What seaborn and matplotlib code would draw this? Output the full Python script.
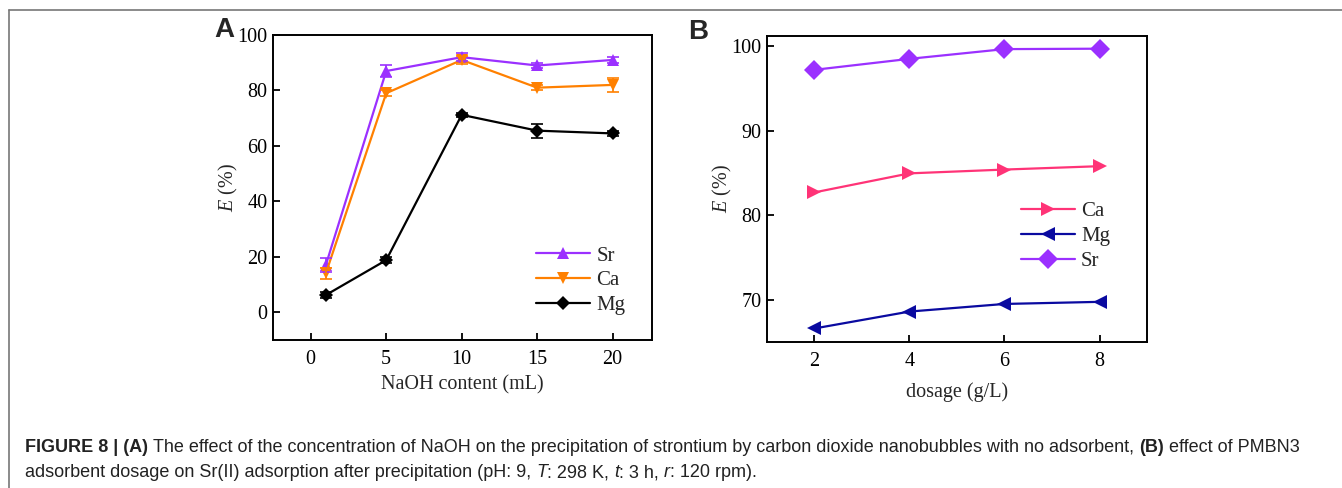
import numpy as np
import pandas as pd
import matplotlib
matplotlib.use("Agg")
import matplotlib.pyplot as plt
from matplotlib.lines import Line2D
import seaborn as sns

# panel A: NaOH content
naoh_ml = [1, 5, 10, 15, 20]
sr_a = [17, 87, 92, 89, 91]
ca_a = [14, 79, 91, 81, 82]
mg_a = [6.2, 18.8, 71.2, 65.5, 64.5]
sr_a_err = [2.5, 2.0, 1.5, 0.8, 1.0]
ca_a_err = [2.0, 1.0, 1.5, 0.8, 2.5]
mg_a_err = [1.0, 1.0, 0.8, 2.5, 1.0]

# panel B: adsorbent dosage
dosage = [2, 4, 6, 8]
ca_b = [82.7, 84.95, 85.4, 85.8]
mg_b = [66.6, 68.6, 69.5, 69.75]
sr_b = [97.2, 98.5, 99.65, 99.7]

sns.set_style("ticks")
plt.rcParams['font.family'] = ['Liberation Serif', 'DejaVu Serif']
plt.rcParams['mathtext.fontset'] = 'custom'
plt.rcParams['mathtext.it'] = 'Liberation Serif:italic'
plt.rcParams['mathtext.rm'] = 'Liberation Serif'

fig = plt.figure(figsize=(13.42, 4.88), dpi=100)
axA = fig.add_axes([0.2034, 0.3033, 0.2824, 0.625])
axB = fig.add_axes([0.5715, 0.2992, 0.2832, 0.627])

c_sr = "#9b30ff"
c_ca = "#ff8000"
c_mg = "#000000"

dfA = pd.DataFrame({
    "x": naoh_ml * 3,
    "E": sr_a + ca_a + mg_a,
    "ion": ["Sr"] * 5 + ["Ca"] * 5 + ["Mg"] * 5,
})
sns.lineplot(data=dfA, x="x", y="E", hue="ion", style="ion",
             palette={"Sr": c_sr, "Ca": c_ca, "Mg": c_mg},
             markers={"Sr": "^", "Ca": "v", "Mg": "D"},
             dashes=False, markersize=9, markeredgewidth=0,
             linewidth=1.6, ax=axA)
# smaller diamonds for Mg
for ln in axA.lines:
    if ln.get_marker() == "D":
        ln.set_markersize(7.5)
for vals, errs, col in [(sr_a, sr_a_err, c_sr), (ca_a, ca_a_err, c_ca), (mg_a, mg_a_err, c_mg)]:
    axA.errorbar(naoh_ml, vals, yerr=errs, fmt="none", ecolor=col,
                 elinewidth=1.2, capsize=4, capthick=1.2)

dfB = pd.DataFrame({
    "x": dosage * 3,
    "E": ca_b + mg_b + sr_b,
    "ion": ["Ca"] * 4 + ["Mg"] * 4 + ["Sr"] * 4,
})
sns.lineplot(data=dfB, x="x", y="E", hue="ion", style="ion",
             palette={"Ca": "#ff3377", "Mg": "#0a0aa0", "Sr": "#9b30ff"},
             markers={"Ca": ">", "Mg": "<", "Sr": "D"},
             dashes=False, markersize=10, markeredgewidth=0,
             linewidth=1.6, ax=axB)

for ax in (axA, axB):
    for s in ax.spines.values():
        s.set_visible(True)
        s.set_linewidth(1.4)
        s.set_color("black")
    ax.tick_params(direction="in", length=5, width=1.3, labelsize=14.5,
                   top=False, right=False, colors="black")
    ax.tick_params(axis="y", pad=4)
    ax.tick_params(axis="x", pad=7)
    ax.set_ylabel(r"$E$ (%)", fontsize=14.5, labelpad=-2)

axA.set_xlim(-2.5, 22.6)
axA.set_ylim(-10, 100)
axA.set_xticks([0, 5, 10, 15, 20])
axA.set_yticks([0, 20, 40, 60, 80, 100])
axA.set_xlabel("NaOH content (mL)", fontsize=14.5, labelpad=5)
axA.legend(frameon=False, fontsize=15, handlelength=2.6, handletextpad=0.3,
           labelspacing=0.25, loc="lower right", bbox_to_anchor=(0.98, 0.02))

axB.set_xlim(1, 9)
axB.set_ylim(65, 101.2)
axB.set_xticks([2, 4, 6, 8])
axB.set_yticks([70, 80, 90, 100])
axB.set_xlabel("dosage (g/L)", fontsize=14.5, labelpad=8.5)
axB.legend(frameon=False, fontsize=15, handlelength=2.6, handletextpad=0.3,
           labelspacing=0.25, loc="center left", bbox_to_anchor=(0.618, 0.345))

fig.text(0.160, 0.925, "A", fontsize=20, fontweight="bold", family="Liberation Sans")
fig.text(0.513, 0.92, "B", fontsize=20, fontweight="bold", family="Liberation Sans")

# border lines of the figure box
fig.add_artist(Line2D([9 / 1342, 1], [1 - 10 / 488, 1 - 10 / 488], color="#777777", lw=1.2))
fig.add_artist(Line2D([9 / 1342, 9 / 1342], [0, 1 - 10 / 488], color="#777777", lw=1.2))

# caption, drawn as runs of regular / bold / italic text
renderer = fig.canvas.get_renderer()
cap_size = 13


def text_width(s, **kw):
    t = fig.text(0, 0, s, fontsize=cap_size, family="Liberation Sans", **kw)
    w = t.get_window_extent(renderer).width
    t.remove()
    return w


space_w = text_width("x x") - text_width("xx")


def draw_runs(x_px, y_px, runs):
    x = x_px
    for s, kw in runs:
        if s == " ":
            x += space_w
            continue
        t = fig.text(x / 1342, 1 - y_px / 488, s, fontsize=cap_size,
                     family="Liberation Sans", color="#222222", **kw)
        x += t.get_window_extent(renderer).width


bold = {"fontweight": "bold"}
ital = {"fontstyle": "italic"}
draw_runs(25, 452, [
    ("FIGURE 8 | (A)", bold), (" ", {}),
    ("The effect of the concentration of NaOH on the precipitation of strontium by carbon dioxide "
     "nanobubbles with no adsorbent,", {}), (" ", {}),
    ("(B)", bold), (" ", {}), ("effect of PMBN3", {}),
])
draw_runs(25, 477, [
    ("adsorbent dosage on Sr(II) adsorption after precipitation (pH: 9,", {}), (" ", {}),
    ("T", ital), (": 298 K,", {}), (" ", {}), ("t", ital), (": 3 h,", {}), (" ", {}),
    ("r", ital), (": 120 rpm).", {}),
])

fig.savefig("out.png", dpi=100)
